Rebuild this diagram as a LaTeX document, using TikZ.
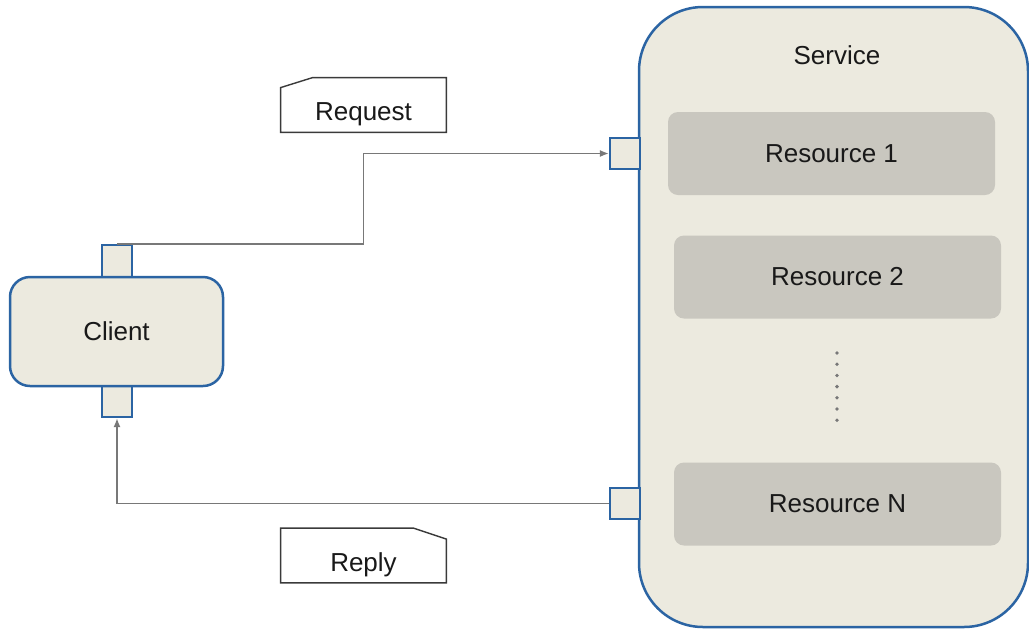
\documentclass[tikz,border=0pt]{standalone}
\usepackage{fontspec}
\setmainfont{Liberation Sans}
\usetikzlibrary{arrows.meta,calc}
\definecolor{beige}{HTML}{ECEADF}
\definecolor{bblue}{HTML}{2B64A3}
\definecolor{resfill}{HTML}{C9C7BF}
\definecolor{conngray}{HTML}{787878}
\definecolor{lblgray}{HTML}{3A3A3A}
\tikzset{
  mainbox/.style={draw=bblue, fill=beige, line width=1.25pt, inner sep=0pt},
  portbox/.style={draw=bblue, fill=beige, line width=1.1pt, inner sep=0pt},
  resbox/.style={fill=resfill, rounded corners=5pt, inner sep=0pt, minimum width=163.5pt, minimum height=41.5pt},
  lblbox/.style={inner sep=0pt, minimum width=82.5pt, minimum height=27pt},
  lblshape/.style={draw=lblgray, line width=0.7pt, fill=white},
  conn/.style={draw=conngray, line width=0.8pt},
  arr/.style={-{Latex[length=4.5pt,width=3.5pt]}},
  txt/.style={inner sep=0pt, font=\fontsize{13}{15}\selectfont, text=black!90}
}
\begin{document}
\begin{tikzpicture}[x=0.5pt,y=-0.5pt]
\useasboundingbox (0,0) rectangle (1029,628);
% service
\node[mainbox, rounded corners=32pt, minimum width=194.5pt, minimum height=310pt] (service) at (833.5,317) {};
\node[txt] (servicetxt) at (837,55.5) {Service};
\node[resbox] (res1) at (831.5,153.5) {};
\node[txt] at (res1.center) {Resource 1};
\node[resbox] (res2) at (837.5,277) {};
\node[txt] at (res2.center) {Resource 2};
\node[resbox] (resn) at (837.5,504) {};
\node[txt] at (resn.center) {Resource N};
\foreach \i in {0,...,6} {
  \fill[conngray] (837,353+11.2*\i) circle (0.95pt);
}
% service ports
\node[portbox, minimum width=15pt, minimum height=15.5pt] (sp1) at (625,153.5) {};
\node[portbox, minimum width=15pt, minimum height=15.5pt] (sp2) at (625,503.5) {};
% client ports
\node[portbox, minimum width=15pt, minimum height=18pt] (cpt) at (117,263) {};
\node[portbox, minimum width=15pt, minimum height=19.5pt] (cpb) at (117,397.5) {};
% client
\node[mainbox, rounded corners=10pt, minimum width=106.5pt, minimum height=54.5pt] (client) at (116.5,331.5) {};
\node[txt] (clienttxt) at (client.center) {Client};
% connectors
\coordinate (rbend) at (363.5,0);
\draw[conn, arr] (cpt.north) -- (cpt.north -| rbend) -- (rbend |- sp1.west) -- (sp1.west);
\draw[conn, arr] (sp2.west) -| (cpb.south);
% labels
\node[lblbox] (req) at (363.5,105) {};
\draw[lblshape] ($(req.north west)+(0,10)$) -- ($(req.north west)+(32,0)$) -- (req.north east) -- (req.south east) -- (req.south west) -- cycle;
\node[txt] (reqtxt) at (363.5,114) {Request};
\node[lblbox] (rep) at (363.5,555.5) {};
\draw[lblshape] (rep.north west) -- ($(rep.north east)+(-33,0)$) -- ($(rep.north east)+(0,11)$) -- (rep.south east) -- (rep.south west) -- cycle;
\node[txt] (reptxt) at (363.5,565) {Reply};
\end{tikzpicture}
\end{document}
